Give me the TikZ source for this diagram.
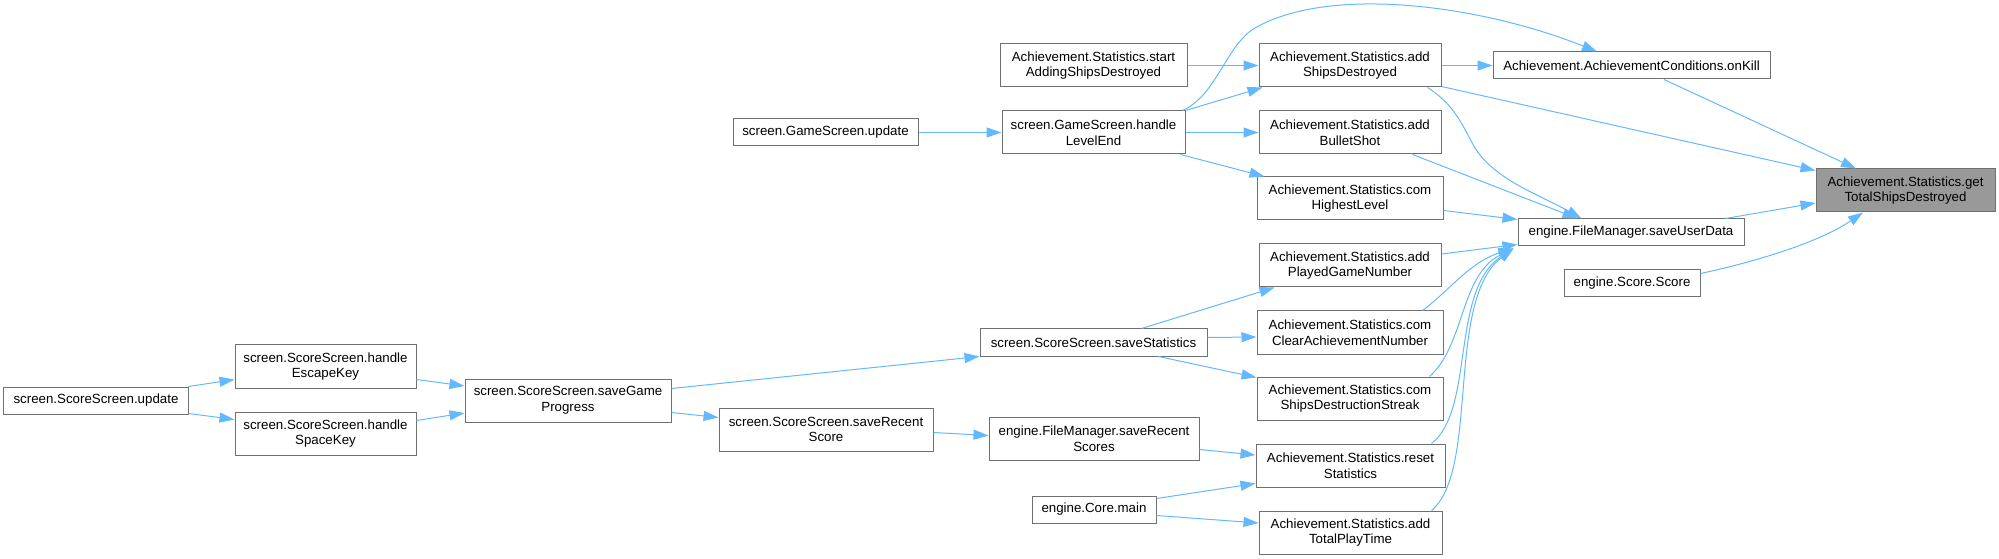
\documentclass[tikz,border=0pt]{standalone}
\usepackage{fontspec}
\setmainfont{Liberation Sans}
\usetikzlibrary{arrows.meta,calc}
\definecolor{edgeblue}{HTML}{63B8FF}
\definecolor{bordergray}{HTML}{707070}
\definecolor{rootfill}{HTML}{999999}
\begin{document}
\begin{tikzpicture}[x=1bp,y=-1bp,
  box/.style={draw=bordergray,line width=1bp,fill=white,rectangle,inner sep=0pt,align=center,
    font=\fontsize{13.3bp}{15.8bp}\selectfont,text=black},
  edge/.style={draw=edgeblue,line width=1bp,-{Triangle[length=15bp,width=10bp]}}]
\useasboundingbox (0,0) rectangle (1999,559);
% nodes
\node[box,minimum width=184bp,minimum height=27bp] (gss) at (96,400.5) {screen.ScoreScreen.update};
\node[box,minimum width=181bp,minimum height=43bp] (hesc) at (325.5,366.5) {screen.ScoreScreen.handle\\EscapeKey};
\node[box,minimum width=181bp,minimum height=43bp] (hspace) at (325.5,433.5) {screen.ScoreScreen.handle\\SpaceKey};
\node[box,minimum width=206bp,minimum height=43bp] (sgp) at (568,400.5) {screen.ScoreScreen.saveGame\\Progress};
\node[box,minimum width=214bp,minimum height=43bp] (srs) at (826,429.5) {screen.ScoreScreen.saveRecent\\Score};
\node[box,minimum width=227bp,minimum height=27bp] (sst) at (1093.5,342.5) {screen.ScoreScreen.saveStatistics};
\node[box,minimum width=210bp,minimum height=43bp] (fsrs) at (1094,438.5) {engine.FileManager.saveRecent\\Scores};
\node[box,minimum width=124bp,minimum height=27bp] (main) at (1094,509.5) {engine.Core.main};
\node[box,minimum width=185bp,minimum height=27bp] (gsu) at (825.5,132.5) {screen.GameScreen.update};
\node[box,minimum width=183bp,minimum height=43bp] (hle) at (1093.5,132.5) {screen.GameScreen.handle\\LevelEnd};
\node[box,minimum width=187bp,minimum height=43bp] (start) at (1093.5,65.5) {Achievement.Statistics.start\\AddingShipsDestroyed};
\node[box,minimum width=182bp,minimum height=43bp] (addShips) at (1350,65.5) {Achievement.Statistics.add\\ShipsDestroyed};
\node[box,minimum width=182bp,minimum height=43bp] (addBullet) at (1350,132.5) {Achievement.Statistics.add\\BulletShot};
\node[box,minimum width=186bp,minimum height=43bp] (comHigh) at (1350,198.5) {Achievement.Statistics.com\\HighestLevel};
\node[box,minimum width=182bp,minimum height=43bp] (addPlayed) at (1350,265.5) {Achievement.Statistics.add\\PlayedGameNumber};
\node[box,minimum width=186bp,minimum height=43bp] (comClear) at (1350,332.5) {Achievement.Statistics.com\\ClearAchievementNumber};
\node[box,minimum width=186bp,minimum height=43bp] (comStreak) at (1350,398.5) {Achievement.Statistics.com\\ShipsDestructionStreak};
\node[box,minimum width=189bp,minimum height=43bp] (reset) at (1350.5,465.5) {Achievement.Statistics.reset\\Statistics};
\node[box,minimum width=183bp,minimum height=43bp] (addTotal) at (1350.5,532.5) {Achievement.Statistics.add\\TotalPlayTime};
\node[box,minimum width=277bp,minimum height=27bp] (onKill) at (1631.5,65.5) {Achievement.AchievementConditions.onKill};
\node[box,minimum width=226bp,minimum height=27bp] (sud) at (1631,232.5) {engine.FileManager.saveUserData};
\node[box,minimum width=136bp,minimum height=27bp] (score) at (1632,283.5) {engine.Score.Score};
\node[box,fill=rootfill,minimum width=179bp,minimum height=43bp] (gt) at (1905.5,190.5) {Achievement.Statistics.get\\TotalShipsDestroyed};
% edges
\draw[edge] ($(onKill.south)+(32.5,0)$) -- ($(gt.north)+(-49.5,0)$);
\draw[edge] ($(addShips.south east)+(0,-1)$) -- ($(gt.north west)+(0,2)$);
\draw[edge] ($(sud.north east)+(-19,0)$) -- ($(gt.west)+(0,12.5)$);
\draw[edge] ($(score.north east)+(0,4)$) .. controls (1745,264) and (1815,245) .. ($(gt.south)+(-42.5,0)$);
\draw[edge] (addShips.east) -- (onKill.west);
\draw[edge] ($(hle.north east)+(-3,0)$) .. controls (1217,95) and (1226,45) .. (1255,28) .. controls (1330,-15) and (1480,5) .. ($(onKill.north)+(-34.5,0)$);
\draw[edge] (start.east) -- (addShips.west);
\draw[edge] (hle.north east) -- ($(addShips.south west)+(4,0)$);
\draw[edge] (hle.east) -- (addBullet.west);
\draw[edge] ($(hle.south east)+(-5,0)$) -- ($(comHigh.north west)+(8,0)$);
\draw[edge] (gsu.east) -- (hle.west);
\draw[edge] ($(addShips.south east)+(-14,0)$) .. controls (1455,105) and (1462,125) .. (1475,148) .. controls (1495,180) and (1540,195) .. ($(sud.north west)+(64,0)$);
\draw[edge] ($(addBullet.south east)+(-29,0)$) -- ($(sud.north west)+(60,0)$);
\draw[edge] ($(comHigh.south east)+(0,-10)$) -- ($(sud.north west)+(0,1)$);
\draw[edge] ($(addPlayed.east)+(0,-11.5)$) -- ($(sud.south west)+(0,-2)$);
\draw[edge] ($(comClear.north east)+(-21,0)$) .. controls (1450,290) and (1470,262) .. ($(sud.south west)+(-4,2)$);
\draw[edge] ($(comStreak.north east)+(-14,0)$) .. controls (1465,345) and (1460,275) .. ($(sud.south west)+(-4,2)$);
\draw[edge] ($(reset.north east)+(-14,0)$) .. controls (1475,410) and (1450,290) .. ($(sud.south west)+(-4,2)$);
\draw[edge] ($(addTotal.north east)+(-11,0)$) .. controls (1480,470) and (1445,300) .. ($(sud.south west)+(-4,2)$);
\draw[edge] ($(sst.north east)+(-66,0)$) -- ($(addPlayed.south west)+(16,0)$);
\draw[edge] ($(sst.east)+(0,-5)$) -- ($(comClear.west)+(0,4.5)$);
\draw[edge] ($(sst.south east)+(-49,0)$) -- ($(comStreak.north west)+(0,1)$);
\draw[edge] ($(sgp.north east)+(0,10)$) -- (sst.south west);
\draw[edge] ($(sgp.south east)+(0,-10)$) -- ($(srs.west)+(0,-12)$);
\draw[edge] ($(srs.east)+(0,3)$) -- ($(fsrs.west)+(0,-3)$);
\draw[edge] ($(fsrs.east)+(0,11)$) -- ($(reset.west)+(0,-10.5)$);
\draw[edge] ($(main.north east)+(0,3)$) -- ($(reset.south west)+(0,-4)$);
\draw[edge] ($(main.south east)+(0,-8)$) -- ($(addTotal.west)+(0,-9.5)$);
\draw[edge] ($(hesc.south east)+(0,-9)$) -- ($(sgp.west)+(0,-14.5)$);
\draw[edge] ($(hspace.north east)+(0,9)$) -- ($(sgp.west)+(0,12.5)$);
\draw[edge] (gss.north east) -- ($(hesc.south west)+(0,-9)$);
\draw[edge] ($(gss.south east)+(0,-1)$) -- ($(hspace.north west)+(0,8)$);
\end{tikzpicture}
\end{document}
